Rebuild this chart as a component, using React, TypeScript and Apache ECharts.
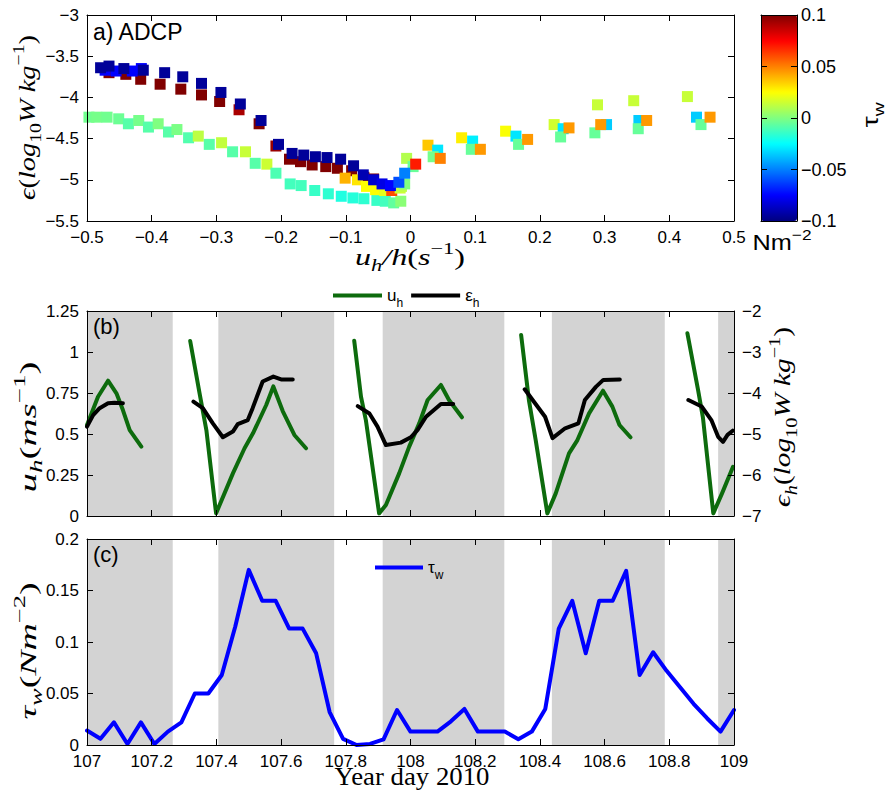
import React, { useEffect, useRef } from 'react';
import * as echarts from 'echarts';

const SANS = 'Liberation Sans, Arial, Helvetica, sans-serif';
const SERIF = 'Liberation Serif, DejaVu Serif, Times New Roman, serif';

// ---------- Panel (a): [u_h/h (s^-1), epsilon (log10 W/kg), tau_w (N m^-2)] ----------
const lowerBranch: number[][] = [
  [-0.497, -4.24, -0.003], [-0.485, -4.24, -0.002], [-0.469, -4.24, -0.003], [-0.451, -4.26, -0.004],
  [-0.436, -4.32, -0.008], [-0.42, -4.28, -0.002], [-0.405, -4.36, -0.008], [-0.39, -4.32, 0.0],
  [-0.374, -4.42, -0.008], [-0.361, -4.39, -0.001], [-0.343, -4.49, -0.009], [-0.328, -4.47, 0.012],
  [-0.311, -4.57, -0.008], [-0.292, -4.55, 0.013], [-0.275, -4.66, -0.008], [-0.255, -4.66, 0.014],
  [-0.24, -4.8, -0.008], [-0.222, -4.81, 0.015], [-0.208, -4.92, -0.01], [-0.186, -5.05, -0.012],
  [-0.169, -5.07, -0.012], [-0.148, -5.13, -0.014], [-0.127, -5.17, -0.016], [-0.107, -5.2, -0.019],
  [-0.089, -5.22, -0.018], [-0.072, -5.23, -0.016], [-0.052, -5.25, -0.014], [-0.039, -5.26, -0.012],
  [-0.026, -5.28, -0.006], [-0.015, -5.26, 0.002],
];
const upperRed: number[][] = [
  [-0.466, -3.7, 0.1], [-0.44, -3.72, 0.1], [-0.417, -3.78, 0.1], [-0.387, -3.84, 0.1],
  [-0.355, -3.9, 0.1], [-0.323, -3.97, 0.1], [-0.295, -4.05, 0.1], [-0.265, -4.15, 0.092],
  [-0.234, -4.32, 0.1], [-0.208, -4.59, 0.095], [-0.187, -4.75, 0.1], [-0.17, -4.78, 0.1],
  [-0.152, -4.82, 0.1], [-0.131, -4.84, 0.1], [-0.113, -4.86, 0.1], [-0.091, -4.89, 0.1],
  [-0.072, -4.97, 0.1], [-0.057, -4.99, 0.1],
];
const slackPoints: number[][] = [
  [-0.101, -4.98, 0.04], [-0.082, -5.0, 0.03], [-0.068, -5.08, 0.025], [-0.054, -5.12, 0.025],
  [-0.04, -5.13, 0.02], [-0.029, -5.13, 0.06], [-0.016, -5.1, 0.015], [-0.014, -5.08, 0.012],
  [-0.009, -5.05, 0.0], [-0.006, -4.74, 0.01], [0.004, -4.84, -0.005], [0.008, -4.81, 0.07],
];
const upperNavy: number[][] = [
  [-0.472, -3.67, -0.075], [-0.455, -3.68, -0.075], [-0.43, -3.68, -0.075], [-0.416, -3.65, -0.075],
  [-0.479, -3.64, -0.095], [-0.466, -3.62, -0.095], [-0.443, -3.65, -0.095], [-0.413, -3.67, -0.095],
  [-0.38, -3.7, -0.095], [-0.352, -3.75, -0.095], [-0.323, -3.83, -0.095], [-0.293, -3.94, -0.095],
  [-0.263, -4.08, -0.095], [-0.231, -4.28, -0.095], [-0.204, -4.57, -0.095], [-0.183, -4.68, -0.095],
  [-0.165, -4.7, -0.095], [-0.147, -4.72, -0.095], [-0.129, -4.73, -0.095], [-0.108, -4.75, -0.095],
  [-0.088, -4.83, -0.095], [-0.073, -4.94, -0.09], [-0.057, -5.0, -0.085], [-0.044, -5.05, -0.08],
  [-0.031, -5.07, -0.075], [-0.018, -5.03, -0.06], [-0.009, -4.92, -0.05],
];
const floodPoints: number[][] = [
  [0.027, -4.58, 0.036], [0.042, -4.64, -0.03], [0.035, -4.72, -0.002], [0.046, -4.74, 0.05],
  [0.079, -4.49, 0.028], [0.096, -4.53, -0.028], [0.094, -4.63, -0.005], [0.108, -4.63, 0.045],
  [0.147, -4.41, 0.024], [0.163, -4.47, -0.03], [0.167, -4.57, -0.005], [0.181, -4.51, 0.045],
  [0.222, -4.33, 0.016], [0.236, -4.38, -0.03], [0.232, -4.48, -0.005], [0.245, -4.37, 0.045],
  [0.289, -4.09, 0.014], [0.303, -4.33, -0.035], [0.285, -4.43, -0.005], [0.294, -4.33, 0.045],
  [0.345, -4.04, 0.014], [0.353, -4.28, -0.035], [0.352, -4.38, -0.005], [0.365, -4.28, 0.045],
  [0.428, -3.99, 0.014], [0.442, -4.24, -0.035], [0.449, -4.33, -0.005], [0.463, -4.24, 0.045],
];

// ---------- Panel (b): [year day, value] segments ----------
const uhSegments: number[][][] = [
  [[107.0, 0.555], [107.034, 0.727], [107.065, 0.825], [107.091, 0.748], [107.111, 0.646], [107.132, 0.524], [107.168, 0.423]],
  [[107.319, 1.067], [107.348, 0.748], [107.369, 0.524], [107.399, 0.016], [107.451, 0.26], [107.487, 0.413], [107.513, 0.504], [107.554, 0.677], [107.576, 0.79], [107.605, 0.64], [107.641, 0.494], [107.677, 0.413]],
  [[107.826, 1.069], [107.847, 0.727], [107.862, 0.585], [107.903, 0.016], [107.924, 0.067], [107.965, 0.26], [107.996, 0.423], [108.027, 0.565], [108.053, 0.707], [108.094, 0.799], [108.119, 0.707], [108.159, 0.602]],
  [[108.342, 1.104], [108.366, 0.707], [108.387, 0.463], [108.423, 0.016], [108.449, 0.138], [108.49, 0.382], [108.516, 0.463], [108.552, 0.626], [108.595, 0.764], [108.624, 0.667], [108.646, 0.555], [108.68, 0.48]],
  [[108.856, 1.114], [108.889, 0.768], [108.904, 0.6], [108.936, 0.016], [108.963, 0.138], [108.997, 0.3]],
];
const ehSegments: number[][][] = [
  [[107.0, -4.82], [107.019, -4.54], [107.039, -4.37], [107.065, -4.25], [107.085, -4.24], [107.111, -4.25]],
  [[107.329, -4.21], [107.358, -4.37], [107.389, -4.74], [107.42, -5.08], [107.451, -4.94], [107.466, -4.76], [107.497, -4.66], [107.512, -4.37], [107.543, -3.72], [107.576, -3.6], [107.6, -3.67], [107.636, -3.67]],
  [[107.837, -4.32], [107.873, -4.5], [107.898, -4.82], [107.924, -5.27], [107.97, -5.21], [108.001, -5.08], [108.022, -4.9], [108.048, -4.58], [108.094, -4.27], [108.132, -4.27]],
  [[108.353, -3.91], [108.385, -4.25], [108.416, -4.58], [108.439, -5.1], [108.478, -4.86], [108.519, -4.74], [108.539, -4.17], [108.573, -3.85], [108.596, -3.68], [108.647, -3.67]],
  [[108.859, -4.17], [108.9, -4.33], [108.93, -4.66], [108.951, -5.07], [108.966, -5.19], [108.98, -5.02], [108.996, -4.92]],
];

// ---------- Panel (c): hourly wind stress ----------
const tauStartDay = 107;
const tauValues: number[] = [
  0.014, 0.006, 0.022, 0.001, 0.022, 0.001, 0.013, 0.022, 0.05, 0.05, 0.068, 0.115,
  0.17, 0.14, 0.14, 0.113, 0.113, 0.089, 0.032, 0.006, 0.0, 0.001, 0.0055, 0.034,
  0.013, 0.013, 0.013, 0.023, 0.035, 0.013, 0.013, 0.013, 0.0055, 0.013, 0.035, 0.113,
  0.14, 0.089, 0.14, 0.14, 0.169, 0.068, 0.09, 0.072, 0.056, 0.04, 0.026, 0.013, 0.034,
];

// shaded (ebb) intervals, year day
const shadedDays: number[][] = [
  [107.0, 107.265], [107.406, 107.764], [107.914, 108.29], [108.437, 108.786], [108.951, 109.0],
];

const JET = ['#000080', '#0000ff', '#0080ff', '#00ffff', '#80ff80', '#ffff00', '#ff8000', '#ff0000', '#800000'];

const fmtNum = (v: number) => String(parseFloat(Number(v).toFixed(4))).replace('-', '\u2212');

const joinSegments = (segs: number[][][]) => {
  const out: any[] = [];
  segs.forEach((s, i) => {
    if (i > 0) out.push([(segs[i - 1][segs[i - 1].length - 1][0] + s[0][0]) / 2, '-']);
    s.forEach((p) => out.push(p));
  });
  return out;
};

const mathRich = (size: number) => {
  const sub = Math.round(size * 0.68);
  const lh = size + 10;
  return {
    i: { fontFamily: SERIF, fontStyle: 'italic', fontSize: size, lineHeight: lh, fill: '#000', color: '#000' },
    r: { fontFamily: SERIF, fontSize: size, lineHeight: lh, fill: '#000', color: '#000' },
    sub: { fontFamily: SERIF, fontSize: sub, lineHeight: sub, verticalAlign: 'bottom', fill: '#000', color: '#000' },
    subi: { fontFamily: SERIF, fontStyle: 'italic', fontSize: sub, lineHeight: sub, verticalAlign: 'bottom', fill: '#000', color: '#000' },
    sup: { fontFamily: SERIF, fontSize: sub, lineHeight: sub, verticalAlign: 'top', fill: '#000', color: '#000' },
  };
};

const sansRich = (size: number) => {
  const sub = Math.round(size * 0.68);
  const lh = size + 10;
  return {
    m: { fontFamily: SANS, fontSize: size, lineHeight: lh, fill: '#000', color: '#000' },
    s: { fontFamily: SANS, fontSize: sub, lineHeight: sub, verticalAlign: 'bottom', fill: '#000', color: '#000' },
    p: { fontFamily: SANS, fontSize: sub, lineHeight: sub, verticalAlign: 'top', fill: '#000', color: '#000' },
  };
};

// measure rich tokens with canvas to stretch labels to the reference's extent
const measureTokens = (tokens: string[][], rich: any) => {
  const ctx = document.createElement('canvas').getContext('2d');
  if (!ctx) return 1;
  let w = 0;
  tokens.forEach(([k, t]) => {
    const s = rich[k];
    ctx.font = `${s.fontStyle || 'normal'} normal ${s.fontSize}px ${s.fontFamily}`;
    w += ctx.measureText(t).width;
  });
  return w || 1;
};

const richLabel = (tokens: string[][], rich: any, cx: number, cy: number, length: number, vertical: boolean) => {
  const w = measureTokens(tokens, rich);
  return {
    type: 'text',
    x: cx,
    y: cy,
    rotation: vertical ? Math.PI / 2 : 0,
    scaleX: length / w,
    z: 20,
    silent: true,
    style: {
      text: tokens.map(([k, t]) => `{${k}|${t}}`).join(''),
      rich,
      fill: '#000',
      align: 'center',
      verticalAlign: 'middle',
      textAlign: 'center',
      textVerticalAlign: 'middle',
    },
  };
};

const axis = (extra: any) => ({
  type: 'value',
  z: 10,
  axisLine: { show: true, onZero: false, lineStyle: { color: '#000', width: 1 } },
  axisTick: { show: true, inside: true, length: 6, lineStyle: { color: '#000', width: 1 } },
  axisLabel: { show: false },
  splitLine: { show: false },
  ...extra,
});

const tickLabel = (extra: any = {}) => ({
  show: true,
  color: '#000',
  fontFamily: SANS,
  fontSize: 17,
  margin: 8,
  formatter: fmtNum,
  ...extra,
});

export default function App() {
  const ref = useRef<HTMLDivElement>(null);

  useEffect(() => {
    if (!ref.current) return;
    const chart = echarts.init(ref.current, null, { renderer: 'svg' });

    const scatterData = [...lowerBranch, ...upperRed, ...slackPoints, ...upperNavy, ...floodPoints];
    const tauData = tauValues.map((v, k) => [tauStartDay + k / 24, v]);
    const shadeArea = {
      silent: true,
      itemStyle: { color: '#d3d3d3', opacity: 1 },
      label: { show: false },
      data: shadedDays.map(([a, b]) => [{ xAxis: a }, { xAxis: b }]),
    };

    const G0 = { left: 87, top: 15, width: 647, height: 206 };
    const G1 = { left: 87, top: 311, width: 647, height: 205 };
    const G2 = { left: 87, top: 539, width: 647, height: 206 };
    const G3 = { left: 761, top: 15, width: 36, height: 206 };

    const m23 = mathRich(23);
    const m25 = mathRich(25);
    const s22 = sansRich(22);

    const option: any = {
      animation: false,
      backgroundColor: '#fff',
      textStyle: { fontFamily: SANS },
      grid: [G0, G1, G2, G3].map((g) => ({ ...g, show: false, containLabel: false, outerBoundsMode: 'none' })),
      xAxis: [
        axis({ gridIndex: 0, position: 'bottom', min: -0.5, max: 0.5, interval: 0.1, axisLabel: tickLabel() }),
        axis({ gridIndex: 0, position: 'top', min: -0.5, max: 0.5, interval: 0.1 }),
        axis({ gridIndex: 1, position: 'bottom', min: 107, max: 109, interval: 0.2 }),
        axis({ gridIndex: 1, position: 'top', min: 107, max: 109, interval: 0.2 }),
        axis({ gridIndex: 2, position: 'bottom', min: 107, max: 109, interval: 0.2, axisLabel: tickLabel() }),
        axis({ gridIndex: 2, position: 'top', min: 107, max: 109, interval: 0.2 }),
        axis({ gridIndex: 3, position: 'bottom', min: 0, max: 1, axisTick: { show: false } }),
        axis({ gridIndex: 3, position: 'top', min: 0, max: 1, axisTick: { show: false } }),
      ],
      yAxis: [
        axis({ gridIndex: 0, position: 'left', min: -5.5, max: -3, interval: 0.5, axisLabel: tickLabel() }),
        axis({ gridIndex: 0, position: 'right', min: -5.5, max: -3, interval: 0.5 }),
        axis({ gridIndex: 1, position: 'left', min: 0, max: 1.25, interval: 0.25, axisLabel: tickLabel() }),
        axis({ gridIndex: 1, position: 'right', min: -7, max: -2, interval: 1, axisLabel: tickLabel() }),
        axis({ gridIndex: 2, position: 'left', min: 0, max: 0.2, interval: 0.05, axisLabel: tickLabel() }),
        axis({ gridIndex: 2, position: 'right', min: 0, max: 0.2, interval: 0.05 }),
        axis({ gridIndex: 3, position: 'left', min: -0.1, max: 0.1, interval: 0.05 }),
        axis({
          gridIndex: 3, position: 'right', min: -0.1, max: 0.1, interval: 0.05,
          axisLabel: tickLabel({ fontSize: 18, margin: 4 }),
        }),
      ],
      visualMap: {
        type: 'continuous',
        seriesIndex: 0,
        dimension: 2,
        min: -0.1,
        max: 0.1,
        inRange: { color: JET },
        left: G3.left,
        top: G3.top,
        itemWidth: G3.width,
        itemHeight: G3.height,
        padding: 0,
        calculable: false,
        hoverLink: false,
        text: null,
        z: 2,
      },
      legend: [
        {
          data: ['uh', 'eh'],
          left: 333, top: 287, padding: 0,
          icon: 'rect', itemWidth: 49, itemHeight: 4, itemGap: 8,
          selectedMode: false,
          formatter: (n: string) => (n === 'uh' ? '{m|u}{s|h}' : '{m|\u03b5}{s|h}'),
          textStyle: { rich: sansRich(17) },
        },
        {
          data: ['tw'],
          left: 375, top: 559, padding: 0,
          icon: 'rect', itemWidth: 48, itemHeight: 4,
          selectedMode: false,
          formatter: () => '{m|\u03c4}{s|w}',
          textStyle: { rich: sansRich(17) },
        },
      ],
      graphic: [
        { type: 'text', left: 93, top: 20, z: 20, style: { text: 'a) ADCP', font: `23px ${SANS}`, fill: '#000' } },
        { type: 'text', left: 93, top: 315, z: 20, style: { text: '(b)', font: `22px ${SANS}`, fill: '#000' } },
        { type: 'text', left: 93, top: 543, z: 20, style: { text: '(c)', font: `22px ${SANS}`, fill: '#000' } },
        richLabel([['i', '\u03f5'], ['r', '('], ['i', 'log'], ['sub', '10'], ['i', 'W kg'], ['sup', '\u22121'], ['r', ')']], m23, 27, 117.5, 165, true),
        richLabel([['i', 'u'], ['subi', 'h'], ['i', '/h'], ['r', '('], ['i', 's'], ['sup', '\u22121'], ['r', ')']], m23, 410, 257, 110, false),
        richLabel([['i', 'u'], ['subi', 'h'], ['r', '('], ['i', 'ms'], ['sup', '\u22121'], ['r', ')']], m23, 28, 427, 131, true),
        richLabel([['i', '\u03f5'], ['subi', 'h'], ['r', '('], ['i', 'log'], ['sub', '10'], ['i', 'W kg'], ['sup', '\u22121'], ['r', ')']], m23, 783, 417, 180, true),
        richLabel([['i', '\u03c4'], ['subi', 'w'], ['r', '('], ['i', 'Nm'], ['sup', '\u22122'], ['r', ')']], m23, 28, 651, 137, true),
        richLabel([['r', 'Year day 2010']], m25, 412, 777, 155, false),
        richLabel([['m', '\u03c4'], ['s', 'w']], s22, 870, 115, 25, true),
        richLabel([['m', 'Nm'], ['p', '\u22122']], s22, 782, 243, 59, false),
      ],
      series: [
        {
          type: 'scatter', name: 'ADCP', xAxisIndex: 0, yAxisIndex: 0,
          symbol: 'rect', symbolSize: 11, clip: false, z: 3,
          itemStyle: { opacity: 1 },
          emphasis: { disabled: true },
          data: scatterData,
        },
        {
          type: 'line', name: 'shadeB', xAxisIndex: 2, yAxisIndex: 2, z: 1,
          data: [], silent: true, markArea: shadeArea,
        },
        {
          type: 'line', name: 'uh', xAxisIndex: 2, yAxisIndex: 2, z: 4,
          color: '#0d6b0d', showSymbol: false, symbol: 'none', connectNulls: false,
          lineStyle: { width: 4, color: '#0d6b0d', join: 'round', cap: 'round' },
          emphasis: { disabled: true },
          data: joinSegments(uhSegments),
        },
        {
          type: 'line', name: 'eh', xAxisIndex: 2, yAxisIndex: 3, z: 4,
          color: '#000', showSymbol: false, symbol: 'none', connectNulls: false,
          lineStyle: { width: 4, color: '#000', join: 'round', cap: 'round' },
          emphasis: { disabled: true },
          data: joinSegments(ehSegments),
        },
        {
          type: 'line', name: 'shadeC', xAxisIndex: 4, yAxisIndex: 4, z: 1,
          data: [], silent: true, markArea: shadeArea,
        },
        {
          type: 'line', name: 'tw', xAxisIndex: 4, yAxisIndex: 4, z: 4,
          color: '#0000ff', showSymbol: false, symbol: 'none',
          lineStyle: { width: 4, color: '#0000ff', join: 'round', cap: 'round' },
          emphasis: { disabled: true },
          data: tauData,
        },
      ],
    };

    chart.setOption(option);
    return () => chart.dispose();
  }, []);

  return (
    <div
      ref={ref}
      style={{ position: 'absolute', left: 0, top: 0, width: 886, height: 798, background: '#fff' }}
    />
  );
}
